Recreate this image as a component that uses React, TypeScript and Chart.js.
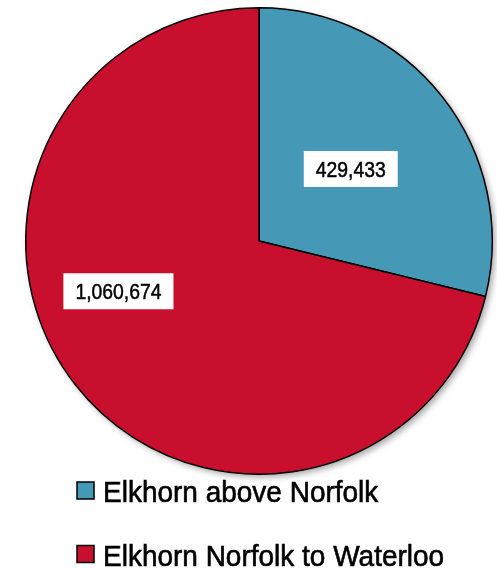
import React, { useEffect, useRef } from "react";
import { Chart, registerables } from "chart.js";

Chart.register(...registerables);

const categories = ["Elkhorn above Norfolk", "Elkhorn Norfolk to Waterloo"];
const values = [429433, 1060674];
const valueLabels = ["429,433", "1,060,674"];
const colors = ["#4698B7", "#C8102E"];
// label placement: fraction along the slice's angle span, fraction of radius
const labelAngleFrac = [0.5, 0.572];
const labelRadiusFrac = [0.5, 0.64];

const FONT = '"Liberation Sans", Arial, sans-serif';

function drawText(ctx: any, text: string, x: number, y: number, sx: number, align: string, stroke: number) {
  ctx.save();
  ctx.translate(x, y);
  ctx.scale(sx, 1);
  ctx.textAlign = align;
  ctx.fillText(text, 0, 0);
  if (stroke > 0) {
    ctx.lineWidth = stroke;
    ctx.strokeStyle = ctx.fillStyle;
    ctx.strokeText(text, 0, 0);
  }
  ctx.restore();
}

const shadowPlugin = {
  id: "pieShadow",
  beforeDatasetsDraw(chart: any) {
    const ctx = chart.ctx;
    ctx.save();
    ctx.shadowColor = "rgba(0,0,0,0.35)";
    ctx.shadowBlur = 6;
    ctx.shadowOffsetX = 3;
    ctx.shadowOffsetY = 3;
    const meta = chart.getDatasetMeta(0);
    const a = meta.data[0] as any;
    ctx.beginPath();
    ctx.arc(a.x, a.y, a.outerRadius, 0, Math.PI * 2);
    ctx.fillStyle = "#ffffff";
    ctx.fill();
    ctx.restore();
  },
};

const labelPlugin = {
  id: "valueBoxes",
  afterDatasetsDraw(chart: any) {
    const ctx = chart.ctx;
    const meta = chart.getDatasetMeta(0);
    ctx.save();
    const sx = 0.86;
    ctx.font = `normal 22.5px ${FONT}`;
    ctx.textBaseline = "alphabetic";
    meta.data.forEach((el: any, i: number) => {
      const ang = el.startAngle + (el.endAngle - el.startAngle) * labelAngleFrac[i];
      const r = el.outerRadius * labelRadiusFrac[i];
      const cx = el.x + Math.cos(ang) * r;
      const cy = el.y + Math.sin(ang) * r;
      const tw = ctx.measureText(valueLabels[i]).width * sx;
      const w = tw + 24;
      const h = 36;
      ctx.fillStyle = "#ffffff";
      ctx.fillRect(cx - w / 2, cy - h / 2, w, h);
      ctx.fillStyle = "#000000";
      drawText(ctx, valueLabels[i], cx, cy + 8, sx, "center", 0.5);
    });
    ctx.restore();
  },
};

const legendPlugin = {
  id: "customLegend",
  afterDraw(chart: any) {
    const ctx = chart.ctx;
    ctx.save();
    ctx.font = `normal 29px ${FONT}`;
    ctx.textBaseline = "alphabetic";
    const rows = [491, 554.5];
    categories.forEach((c, i) => {
      const y = rows[i];
      ctx.fillStyle = colors[i];
      ctx.fillRect(77, y - 9, 17, 17);
      ctx.strokeStyle = "#000000";
      ctx.lineWidth = 1.5;
      ctx.strokeRect(77, y - 9, 17, 17);
      ctx.fillStyle = "#000000";
      drawText(ctx, c, 103, y + 11, 0.965, "left", 0.6);
    });
    ctx.restore();
  },
};

export default function App() {
  const ref = useRef<HTMLCanvasElement>(null);
  useEffect(() => {
    document.body.style.margin = "0";
    const chart = new Chart(ref.current!, {
      type: "pie",
      data: {
        labels: categories,
        datasets: [
          {
            data: values,
            backgroundColor: colors,
            borderColor: "#000000",
            borderWidth: 1.5,
          },
        ],
      },
      options: {
        animation: false,
        responsive: false,
        maintainAspectRatio: false,
        layout: { padding: { left: 25, right: 4, top: 7, bottom: 93 } },
        plugins: {
          legend: { display: false },
          tooltip: { enabled: false },
        },
      },
      plugins: [shadowPlugin, labelPlugin, legendPlugin],
    });
    return () => chart.destroy();
  }, []);
  return (
    <div style={{ width: 497, height: 568 }}>
      <canvas ref={ref} width={497} height={568} style={{ display: "block" }} />
    </div>
  );
}
